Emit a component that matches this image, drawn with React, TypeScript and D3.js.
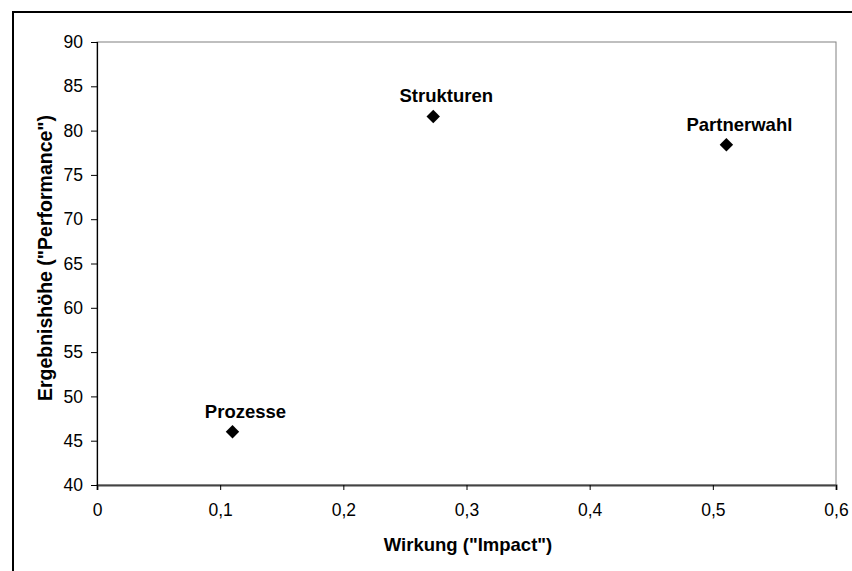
import { useEffect, useRef } from "react";
import * as d3 from "d3";

const names = ["Prozesse", "Strukturen", "Partnerwahl"];
const impact = [0.11, 0.273, 0.511];
const performance = [46, 81.6, 78.4];
const xTicks = [0, 0.1, 0.2, 0.3, 0.4, 0.5, 0.6];
const yTicks = [40, 45, 50, 55, 60, 65, 70, 75, 80, 85, 90];

const W = 852, H = 571;
const FONT = "Arial, 'Liberation Sans', sans-serif";

export default function App() {
  const svgRef = useRef<SVGSVGElement>(null);

  useEffect(() => {
    if (!svgRef.current) return;
    const svg = d3.select(svgRef.current);
    svg.selectAll("*").remove();

    const left = 97, right = 836, top = 42, bottom = 485;
    const x = d3.scaleLinear().domain([0, 0.6]).range([left, right]);
    const y = d3.scaleLinear().domain([40, 90]).range([bottom, top]);
    const fmt = (v: number) => String(+v.toFixed(1)).replace(".", ",");

    // chart frame (only top and left visible)
    svg.append("rect")
      .attr("x", 13).attr("y", 12).attr("width", W + 20).attr("height", H + 20)
      .attr("fill", "#fff").attr("stroke", "#000").attr("stroke-width", 2);

    // plot area border
    svg.append("rect")
      .attr("x", left).attr("y", top).attr("width", right - left).attr("height", bottom - top)
      .attr("fill", "none").attr("stroke", "#808080").attr("stroke-width", 1);

    const xAxis = svg.append("g")
      .attr("transform", `translate(0,${bottom})`)
      .call(d3.axisBottom(x).tickValues(xTicks).tickFormat((d) => fmt(+d)).tickSize(5).tickPadding(14));
    const yAxis = svg.append("g")
      .attr("transform", `translate(${left},0)`)
      .call(d3.axisLeft(y).tickValues(yTicks).tickSize(6).tickPadding(8));

    [xAxis, yAxis].forEach((g) => {
      g.select(".domain").attr("stroke", "#000").attr("stroke-width", 1.2);
      g.selectAll(".tick line").attr("stroke", "#000");
      g.selectAll(".tick text").attr("font-family", FONT).attr("font-size", 17.5).attr("fill", "#000");
    });
    xAxis.select(".domain").attr("stroke", "#444").attr("stroke-width", 2);

    const pts = names.map((n, i) => ({ name: n, x: impact[i], y: performance[i] }));
    const diamond = d3.symbol().type(d3.symbolDiamond2).size(115);

    svg.append("g").selectAll("path")
      .data(pts)
      .join("path")
      .attr("d", diamond)
      .attr("transform", (d) => `translate(${x(d.x)},${y(d.y)})`)
      .attr("fill", "#000");

    svg.append("g").selectAll("text")
      .data(pts)
      .join("text")
      .attr("x", (d) => x(d.x) + 13)
      .attr("y", (d) => y(d.y) - 14)
      .attr("text-anchor", "middle")
      .attr("font-family", FONT).attr("font-size", 18.5).attr("font-weight", "bold")
      .text((d) => d.name);

    svg.append("text")
      .attr("x", 468).attr("y", 551)
      .attr("text-anchor", "middle")
      .attr("font-family", FONT).attr("font-size", 18.5).attr("font-weight", "bold")
      .text('Wirkung ("Impact")');

    svg.append("text")
      .attr("transform", `translate(52,258) rotate(-90)`)
      .attr("text-anchor", "middle")
      .attr("font-family", FONT).attr("font-size", 19.5).attr("font-weight", "bold")
      .text('Ergebnishöhe ("Performance")');
  }, []);

  return (
    <div style={{ position: "absolute", left: 0, top: 0 }}>
      <svg ref={svgRef} width={W} height={H} style={{ display: "block" }} />
    </div>
  );
}
